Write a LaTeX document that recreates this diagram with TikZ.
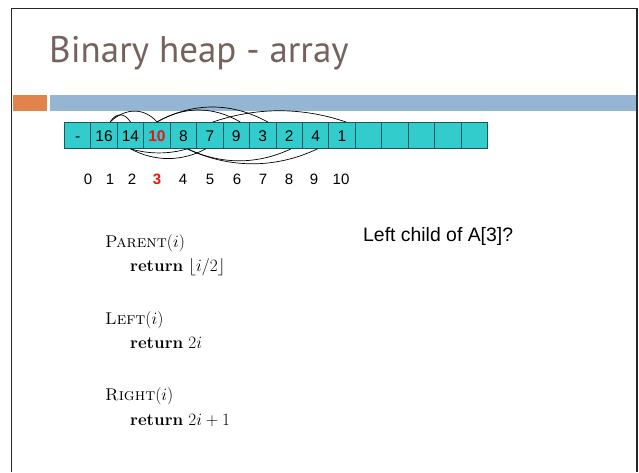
\documentclass[tikz,border=0pt]{standalone}
\usepackage{fontspec}
\newfontfamily\arialf{Liberation Sans}
\newfontfamily\titlef{PT Sans}
\definecolor{titlec}{RGB}{118,98,92}
\definecolor{orangebar}{RGB}{224,132,74}
\definecolor{bluebar}{RGB}{148,182,210}
\definecolor{cellfill}{RGB}{51,204,204}
\definecolor{celldraw}{RGB}{24,90,90}
\definecolor{redc}{RGB}{235,20,20}
\begin{document}
\begin{tikzpicture}[x=1pt,y=-1pt,
  cell/.style={draw=celldraw,line width=0.8pt,fill=cellfill,minimum width=26.44pt,minimum height=26pt,inner sep=0pt,text height=11.2pt,text depth=0pt,anchor=north west,font=\arialf\fontsize{15.5}{18}\selectfont},
  idx/.style={font=\arialf\fontsize{15}{18}\selectfont,inner sep=0pt,text height=10.8pt,text depth=0pt},
  code/.style={anchor=west,inner sep=0pt,font=\fontsize{17}{20}\selectfont},
  arc/.style={draw=black,line width=0.7pt}]
\useasboundingbox (0,0) rectangle (639,472);
\fill[white] (0,0) rectangle (639,472);
% frame
\draw[line width=1.6pt,black!85] (11.5,472) -- (11.5,8.5) -- (637,8.5) -- (637,472);
% bars
\fill[orangebar] (12.5,95) rectangle (47,110.7);
\fill[bluebar] (50,95) rectangle (636.2,110.7);
% title
\node[anchor=base west,inner sep=0pt,text=titlec,font=\titlef\fontsize{37}{42}\selectfont] (title) at (49,62) {Binary heap - array};
% cells
\foreach \t [count=\i from 0] in {-,16,14,{\textcolor{redc}{\bfseries 10}},8,7,9,3,2,4,1,{},{},{},{},{}} {
  \node[cell] (c\i) at (64+26.44*\i,122) {\t};
}
% arcs on top
\draw[arc] ([xshift=6pt]c1.north) .. controls +(6,-9.5) and +(-6,-9.5) .. (c2.north);
\draw[arc] ([xshift=6pt]c1.north) .. controls +(16,-15) and +(-12,-14) .. (c3.north);
\draw[arc] (c3.north) .. controls +(27,-16) and +(-27,-16) .. ([xshift=4pt]c6.north);
\draw[arc] (c3.north) .. controls +(36,-20) and +(-36,-20) .. ([xshift=5pt]c7.north);
\draw[arc] ([xshift=3pt]c5.north) .. controls +(44,-15) and +(-44,-15) .. ([xshift=4pt]c10.north);
% arcs below
\draw[arc] (c2.south) .. controls +(18,5.5) and +(-18,5.5) .. ([xshift=4pt]c4.south);
\draw[arc] (c2.south) .. controls +(24,13) and +(-24,13) .. ([xshift=-4pt]c5.south);
\draw[arc] ([xshift=4pt]c4.south) .. controls +(34,16) and +(-34,16) .. ([xshift=2pt]c8.south);
\draw[arc] ([xshift=4pt]c4.south) .. controls +(42,20) and +(-42,20) .. ([xshift=2pt]c9.south);
% indices
\foreach \t/\x [count=\i from 0] in {0/88,1/110,2/132,{\textcolor{redc}{\bfseries 3}}/157,4/183,5/210,6/237,7/263,8/289,9/314,10/341} {
  \node[idx] (n\i) at (\x,179) {\t};
}
% question
\node[anchor=west,inner sep=0pt,font=\arialf\fontsize{19.4}{22}\selectfont] (q) at (363,236) {Left child of A[3]?};
% pseudocode
\node[code] (p1) at (105,243) {\textsc{Parent}$(i)$};
\node[code] (p2) at (130,267) {\textbf{return} $\lfloor i/2\rfloor$};
\node[code] (l1) at (105,320) {\textsc{Left}$(i)$};
\node[code] (l2) at (130,343) {\textbf{return} $2i$};
\node[code] (r1) at (105,396) {\textsc{Right}$(i)$};
\node[code] (r2) at (130,420) {\textbf{return} $2i+1$};
\end{tikzpicture}
\end{document}
